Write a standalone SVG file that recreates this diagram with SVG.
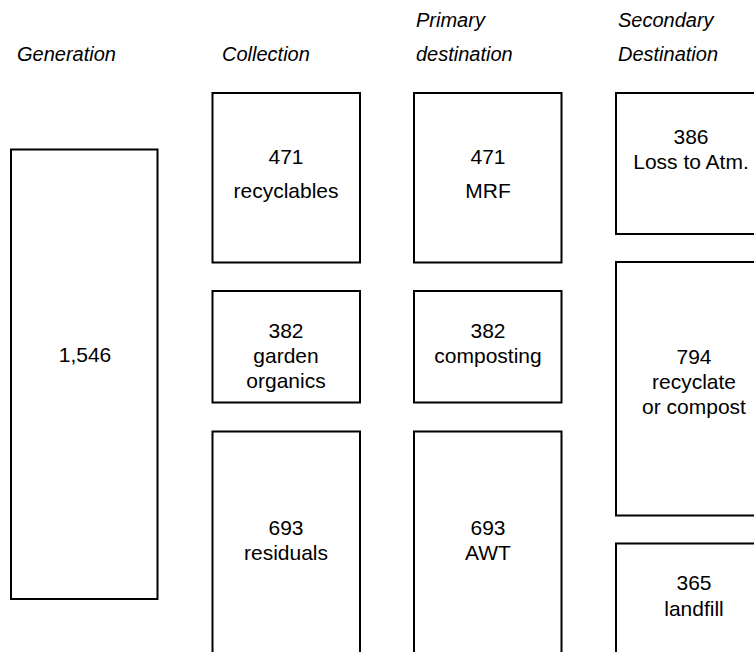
<svg xmlns="http://www.w3.org/2000/svg" width="754" height="652" viewBox="0 0 754 652">
  <style>
    .box { fill: #ffffff; stroke: #000000; stroke-width: 2; }
    .hd { font-family: "Liberation Sans", Arial, sans-serif; font-style: italic; font-size: 20px; fill: #000000; }
    .lb { font-family: "Liberation Sans", Arial, sans-serif; font-size: 20px; fill: #000000; text-anchor: middle; }
  </style>
  <rect width="754" height="652" fill="#ffffff"/>

  <!-- column headings -->
  <g id="headings">
    <text class="hd" x="17" y="61">Generation</text>
    <text class="hd" x="222" y="61">Collection</text>
    <text class="hd" x="416" y="27">Primary</text>
    <text class="hd" x="416" y="61">destination</text>
    <text class="hd" x="618" y="27">Secondary</text>
    <text class="hd" x="618" y="61">Destination</text>
  </g>

  <!-- generation -->
  <g id="generation">
    <rect class="box" x="11" y="149.5" width="146.5" height="449.5"/>
    <text class="lb" transform="translate(85,362) scale(1.05,1)">1,546</text>
  </g>

  <!-- collection -->
  <g id="recyclables">
    <rect class="box" x="212.5" y="93" width="147.5" height="169.5"/>
    <text class="lb" transform="translate(286,164) scale(1.05,1)">471</text>
    <text class="lb" transform="translate(286,198) scale(1.05,1)">recyclables</text>
  </g>
  <g id="garden-organics">
    <rect class="box" x="212.5" y="291" width="147.5" height="111.5"/>
    <text class="lb" transform="translate(286,338) scale(1.05,1)">382</text>
    <text class="lb" transform="translate(286,363) scale(1.05,1)">garden</text>
    <text class="lb" transform="translate(286,388) scale(1.05,1)">organics</text>
  </g>
  <g id="residuals">
    <rect class="box" x="212.5" y="431.5" width="147.5" height="260"/>
    <text class="lb" transform="translate(286,535) scale(1.05,1)">693</text>
    <text class="lb" transform="translate(286,560) scale(1.05,1)">residuals</text>
  </g>

  <!-- primary destination -->
  <g id="mrf">
    <rect class="box" x="414" y="93" width="147.5" height="169.5"/>
    <text class="lb" transform="translate(488,164) scale(1.05,1)">471</text>
    <text class="lb" transform="translate(488,198) scale(1.05,1)">MRF</text>
  </g>
  <g id="composting">
    <rect class="box" x="414" y="291" width="147.5" height="111.5"/>
    <text class="lb" transform="translate(488,338) scale(1.05,1)">382</text>
    <text class="lb" transform="translate(488,363) scale(1.05,1)">composting</text>
  </g>
  <g id="awt">
    <rect class="box" x="414" y="431.5" width="147.5" height="260"/>
    <text class="lb" transform="translate(488,535) scale(1.05,1)">693</text>
    <text class="lb" transform="translate(488,560) scale(1.05,1)">AWT</text>
  </g>

  <!-- secondary destination -->
  <g id="loss-to-atm">
    <rect class="box" x="616" y="93" width="180" height="141"/>
    <text class="lb" transform="translate(691,144) scale(1.05,1)">386</text>
    <text class="lb" transform="translate(691,169) scale(1.05,1)">Loss to Atm.</text>
  </g>
  <g id="recyclate-or-compost">
    <rect class="box" x="616" y="262" width="180" height="253.5"/>
    <text class="lb" transform="translate(694,364) scale(1.05,1)">794</text>
    <text class="lb" transform="translate(694,389) scale(1.05,1)">recyclate</text>
    <text class="lb" transform="translate(694,414) scale(1.05,1)">or compost</text>
  </g>
  <g id="landfill">
    <rect class="box" x="616" y="543.5" width="180" height="150"/>
    <text class="lb" transform="translate(694,590) scale(1.05,1)">365</text>
    <text class="lb" transform="translate(694,616) scale(1.05,1)">landfill</text>
  </g>

  <g id="connectors"/>
</svg>
